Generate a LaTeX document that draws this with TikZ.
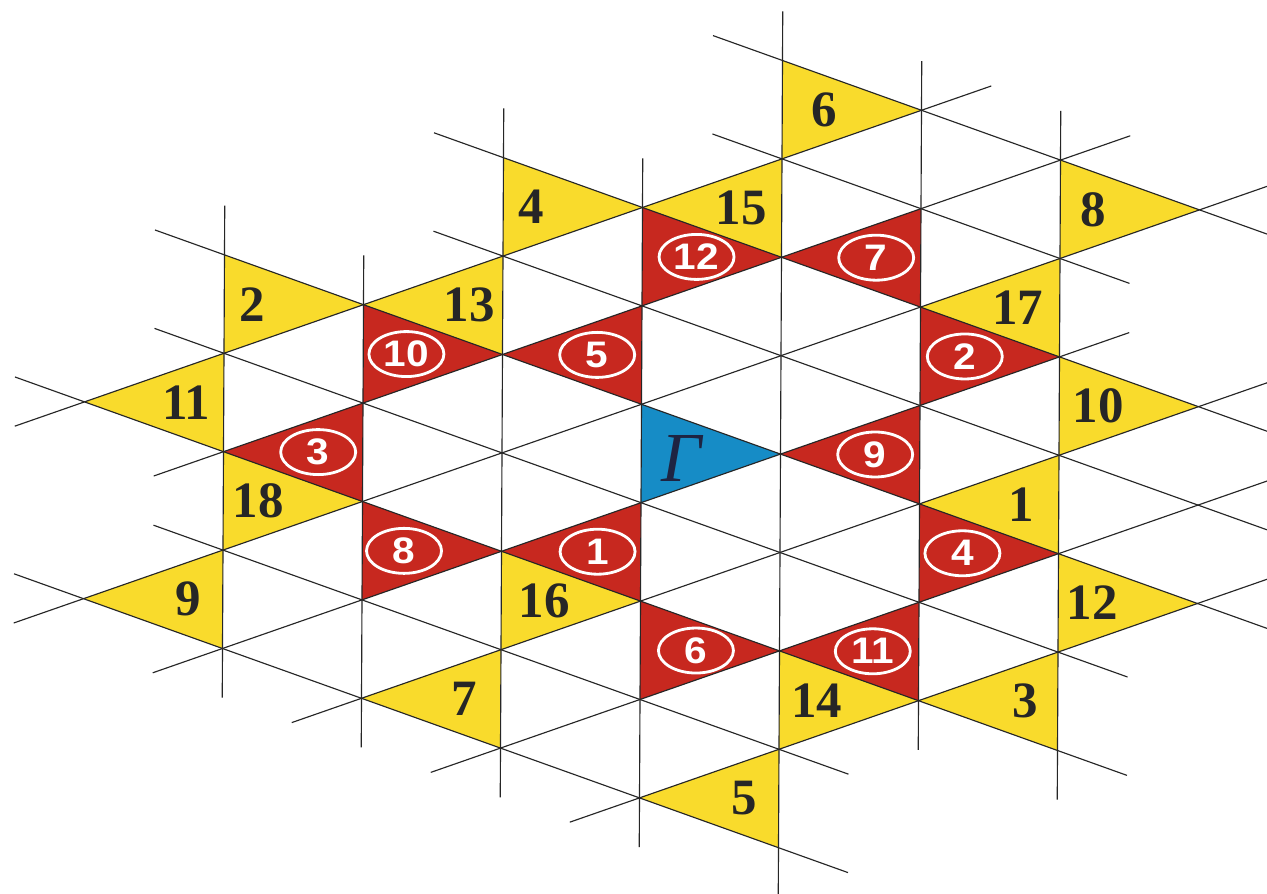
\documentclass[tikz,border=0pt]{standalone}
\usepackage{fontspec}
\setmainfont{Liberation Serif}
\newfontfamily\ovalfont[FakeStretch=1.1]{Liberation Sans}
\usepackage{tikz}
\usetikzlibrary{shapes.geometric}
\definecolor{tiyellow}{HTML}{F9DB2C}
\definecolor{tired}{HTML}{C7281F}
\definecolor{tiblue}{HTML}{168CC6}
\definecolor{tiink}{HTML}{262626}
\definecolor{tinavy}{HTML}{1E2442}

\begin{document}
\begin{tikzpicture}[x={(2.79cm,0.972cm)}, y={(0.01cm,1.968cm)},
    gridline/.style={line width=0.65pt, black!85},
    ylab/.style={inner sep=0pt, text=tiink, font=\fontsize{29}{30}\selectfont\bfseries},
    rlab/.style={ellipse, draw=white, line width=1.6pt, inner sep=0pt,
      minimum width=1.5cm, minimum height=0.9cm, text=white,
      font=\fontsize{21}{22}\selectfont\ovalfont\bfseries}]
    \path[fill=white, use as bounding box] (-12.82cm,-7.826cm) rectangle (12.52cm,10.054cm);
    \foreach \i/\j/\n/\d in {1/3/6/0.30, -1/3/4/0.20, 3/1/8/0.24, -3/3/2/0.20, 3/-1/10/0.28,
        -3/1/18/0.25, -1/-1/16/0.31, 3/-3/12/0.245, 1/-3/14/0.27}
      {\fill[tiyellow] (\i,\j) -- (\i,\j+1) -- (\i+1,\j) -- cycle;
       \node[ylab] (y\n) at (\i+\d,\j+0.5-0.5*\d) {\n};}
    \foreach \i/\j/\n/\d in {1/2/15/0.29, -1/2/13/0.24, 3/0/17/0.30, -3/2/11/0.27, 3/-2/1/0.27,
        -3/0/9/0.25, -1/-2/7/0.26, 3/-4/3/0.23, 1/-4/5/0.245}
      {\fill[tiyellow] (\i,\j) -- (\i,\j+1) -- (\i-1,\j+1) -- cycle;
       \node[ylab] (y\n) at (\i-\d,\j+0.5+0.5*\d) {\n};}
    \foreach \i/\j/\n/\d in {0/2/12/0.39, -2/2/10/0.31, 2/0/2/0.32, -2/0/8/0.30, 2/-2/4/0.31, 0/-2/6/0.40}
      {\fill[tired] (\i,\j) -- (\i,\j+1) -- (\i+1,\j) -- cycle;
       \node[rlab] (r\n) at (\i+\d,\j+0.5-0.5*\d) {\makebox[0pt]{\n}};}
    \foreach \i/\j/\n/\d in {2/1/7/0.32, 0/1/5/0.32, -2/1/3/0.32, 2/-1/9/0.32, 0/-1/1/0.31, 2/-3/11/0.33}
      {\fill[tired] (\i,\j) -- (\i,\j+1) -- (\i-1,\j+1) -- cycle;
       \node[rlab] (r\n) at (\i-\d,\j+0.5+0.5*\d) {\makebox[0pt]{\n}};}
    \fill[tiblue] (0,0) -- (0,1) -- (1,0) -- cycle;
    \node[inner sep=0pt, text=tinavy, font=\fontsize{40}{42}\selectfont\itshape] (gamma) at (0.29,0.306) {Γ};
    \foreach \j/\a/\b in {3/-4.5/2.5, 2/-3.5/3.5, 1/-4.5/4.5, 0/-3.5/3.5, -1/-2.5/4.5, -2/-1.5/4.5, -3/-0.5/4.5}
      \draw[gridline] (\a,\j) -- (\b,\j);
    \foreach \s/\a/\b in {5/0.5/4.5, 4/0.5/3.5, 3/-1.5/4.5, 2/-1.5/4.5, 1/-3.5/4.5, 0/-3.5/3.5,
        -1/-4.5/3.5, -2/-3.5/1.5, -3/-4.5/1.5}
      \draw[gridline] (\a,{\s-(\a)}) -- (\b,{\s-(\b)});
    \foreach \i/\a/\b in {-3/-0.5/4.5, -2/-1.5/3.5, -1/-2.5/4.5, 0/-3.5/3.5, 1/-4.5/4.5, 2/-3.5/3.5, 3/-4.5/2.5}
      \draw[gridline] (\i,\a) -- (\i,\b);
\end{tikzpicture}
\end{document}
